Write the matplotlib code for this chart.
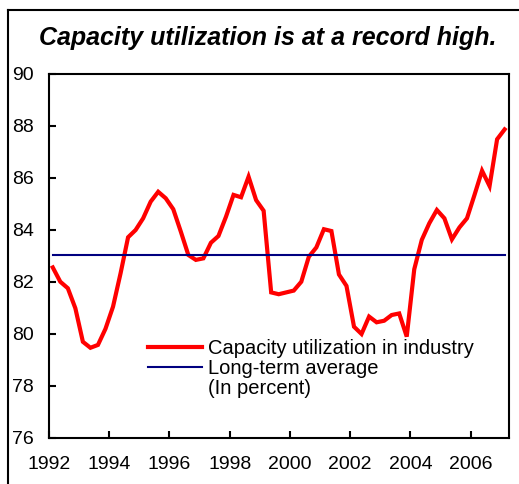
import matplotlib
matplotlib.use("Agg")
import matplotlib.pyplot as plt
from matplotlib.lines import Line2D
import numpy as np

plt.rcParams['font.family'] = ['Liberation Sans', 'DejaVu Sans']

# Quarterly data, 1992Q1 .. 2007Q1
start_year = 1992
capacity = [82.56, 82.01, 81.76, 80.99, 79.70, 79.47, 79.58, 80.2,
            81.05, 82.33, 83.72, 84.0, 84.45, 85.09, 85.47, 85.22,
            84.8, 83.94, 83.04, 82.85, 82.91, 83.51, 83.77, 84.51,
            85.35, 85.26, 86.05, 85.15, 84.74, 81.6, 81.53, 81.6,
            81.67, 82.01, 82.97, 83.33, 84.03, 83.96, 82.29, 81.85,
            80.28, 80.0, 80.67, 80.45, 80.51, 80.73, 80.79, 79.9,
            82.49, 83.62, 84.26, 84.77, 84.45, 83.64, 84.1, 84.45,
            85.35, 86.28, 85.69, 87.49, 87.87]
long_term_avg = 83.04
title = "Capacity utilization is at a record high."
series_labels = ["Capacity utilization in industry", "Long-term average", "(In percent)"]
x_ticks = [1992, 1994, 1996, 1998, 2000, 2002, 2004, 2006]
y_ticks = [76, 78, 80, 82, 84, 86, 88, 90]

x = start_year + 0.125 + 0.25 * np.arange(len(capacity))

W, H = 519, 484
fig = plt.figure(figsize=(W / 100, H / 100), dpi=100)
ax = fig.add_axes([49 / W, 1 - 438 / H, (509 - 49) / W, (438 - 74) / H])

l1, = ax.plot(x, capacity, color='#ff0000', lw=3.0, solid_joinstyle='miter')
l2, = ax.plot([x[0], x[-1]], [long_term_avg, long_term_avg], color='#000080', lw=1.5)

ax.set_xlim(1992, 2007.27)
ax.set_ylim(76, 90)
ax.set_xticks(x_ticks)
ax.set_yticks(y_ticks)
ax.set_xticklabels([str(t) for t in x_ticks])
ax.tick_params(axis='both', direction='in', length=5, width=1.5, labelsize=14, colors='black')
ax.tick_params(axis='y', pad=11)
ax.tick_params(axis='x', pad=13)
for s in ax.spines.values():
    s.set_linewidth(1.5)
    s.set_color('black')

blank = Line2D([], [], color='none')
leg = ax.legend([l1, l2, blank], series_labels, loc='upper left',
                bbox_to_anchor=(148 / W, 1 - 339 / H), bbox_transform=fig.transFigure,
                frameon=False, fontsize=14.5, handlelength=2.7, handletextpad=0.3,
                labelspacing=0.05, borderpad=0, borderaxespad=0)

fig.text(0.515, 1 - 38 / H, title, ha='center', va='center', fontsize=18,
         fontweight='bold', fontstyle='italic')

# outer frame
fig.add_artist(Line2D([8 / W, 8 / W], [0, 1 - 10 / H], transform=fig.transFigure, color='black', lw=1.5))
fig.add_artist(Line2D([8 / W, 1], [1 - 10 / H, 1 - 10 / H], transform=fig.transFigure, color='black', lw=1.5))

fig.savefig('out.png', dpi=100)
